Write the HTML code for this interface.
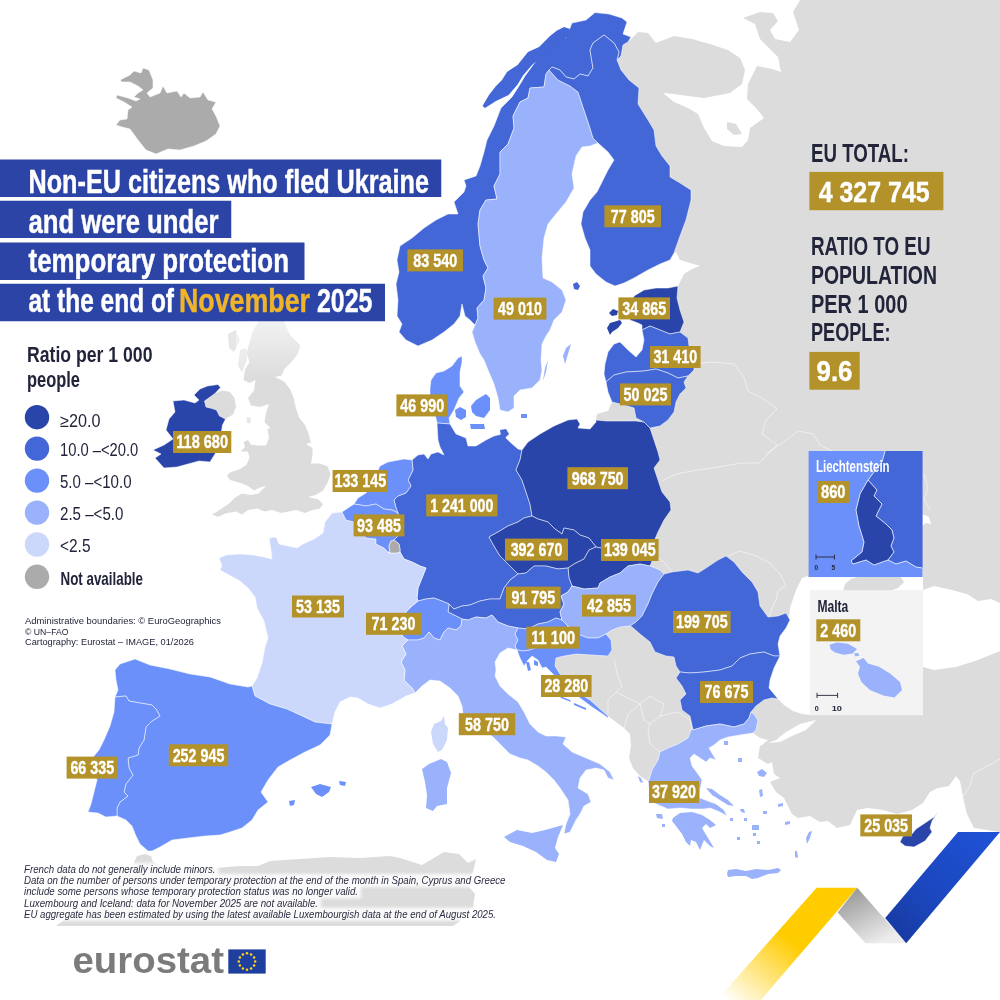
<!DOCTYPE html><html><head><meta charset="utf-8"><title>Temporary protection</title>
<style>html,body{margin:0;padding:0;background:#fff}svg{display:block}text{font-family:"Liberation Sans", Arial, sans-serif}</style></head><body>
<svg width="1000" height="1000" viewBox="0 0 1000 1000">
<defs>
<linearGradient id="gb" x1="1" y1="0" x2="0" y2="1"><stop offset="0" stop-color="#1F52D6"/><stop offset="0.6" stop-color="#1B47BE"/><stop offset="1" stop-color="#17379A"/></linearGradient>
<linearGradient id="gg" x1="0" y1="0" x2="0.6" y2="1"><stop offset="0" stop-color="#8E8E8E"/><stop offset="1" stop-color="#EDEDED"/></linearGradient>
<linearGradient id="gy" gradientUnits="userSpaceOnUse" x1="792" y1="942" x2="738" y2="1010"><stop offset="0" stop-color="#FFCC00"/><stop offset="1" stop-color="#FFCC00" stop-opacity="0"/></linearGradient>
<linearGradient id="fade" x1="0" y1="0" x2="0" y2="1"><stop offset="0" stop-color="#fff" stop-opacity="0.62"/><stop offset="1" stop-color="#fff" stop-opacity="0"/></linearGradient>
<filter id="blur" x="-5%" y="-20%" width="110%" height="140%"><feGaussianBlur stdDeviation="1.6"/></filter>
</defs>
<rect width="1000" height="1000" fill="#fff"/>
<g id="grey">
<path d="M617,60 L621,56 L623,45 L628,42 L638,32 L648,33 L656,43 L674,36 L692,39 L710,44 L728,50 L740,58 L745,70 L742,84 L730,93 L704,98 L688,96 L674,94 L663,93 L674,102 L688,108 L698,114 L704,128 L712,141 L724,146 L742,147 L748,140 L750,128 L764,118 L756,108 L747,99 L748,84 L757,66 L772,69 L781,72 L778,57 L769,48 L760,39 L755,24 L743,18 L760,12 L773,13 L778,21 L770,30 L775,39 L790,42 L799,30 L793,12 L800,0 L1000,0 L1000,603 L991,599 L978,601 L967,594 L952,590 L934,586 L923,590 L923,577 L808,577 L808,576 L802,578 L796,590 L790,608 L789,617 L770,626 L750,610 L740,590 L700,590 L660,590 L640,545 L640,460 L640,400 L660,350 L660,310 L672,294 L678,286 L684,274 L692,269 L700,266 L690,263 L680,260 L676,252 L674,253 L660,240 L660,200 L640,150 L620,100 L610,64Z" fill="#DCDCDC" />
<path d="M843,591 L845,584 L851,579 L860,576 L900,576 L904,582 L898,588 L890,591Z" fill="#DCDCDC" />
<path d="M727,122 L736,124 L742,134 L734,135 L727,129Z" fill="#DCDCDC" />
<path d="M778,699 L784,705 L793,711 L802,714 L810,715 L923,667 L934,670 L956,667 L978,660 L1000,651 L1000,832 L974,828 L967,814 L963,797 L960,781 L956,776 L949,786 L938,788 L930,792 L923,803 L912,810 L897,814 L883,810 L868,808 L857,810 L850,825 L837,828 L828,821 L820,822 L810,816 L798,818 L792,814 L788,806 L784,798 L776,792 L770,782 L780,778 L774,774 L772,762 L768,764 L758,758 L760,746 L766,743 L780,742 L792,736 L806,730 L816,720 L800,724 L786,732 L776,740 L762,745 L768,740 L760,738 L753,733 L756,730 L758,720 L754,714 L751,712 L756,706 L764,700 L772,698Z" fill="#DCDCDC" />
<path d="M606,634 L611,640 L612,650 L608,656 L592,655 L576,654 L564,656 L556,658 L555,666 L560,674 L566,680 L574,688 L580,694 L590,700 L600,709 L608,716 L616,722 L624,728 L630,734 L631,746 L629,758 L633,768 L640,776 L648,781 L649,780 L652,770 L658,760 L660,752 L668,748 L678,744 L688,738 L692,728 L693,730 L690,716 L682,710 L680,700 L686,694 L682,686 L676,678 L680,672 L676,666 L674,657 L666,656 L655,652 L650,642 L640,634 L632,627 L630,626 L620,627 L612,630Z" fill="#DCDCDC" />
<path d="M258.5,321 L284,321 L290,335 L296,341 L300.5,345.5 L297.5,354.5 L290,363.5 L284,369.5 L281.7,375.5 L275,377 L284,381.5 L290,389 L293.7,398 L296,408.5 L299,417.5 L305,425 L308,432 L311,442.5 L306,444 L312.5,448 L312.5,454.5 L311,463.5 L320,463.5 L327.5,466.5 L330.5,474 L327.5,483 L323,490.5 L315.5,495 L308,497 L318.5,499.5 L323,504 L320,508.5 L312.5,510 L305,513 L296,510 L288.5,511.5 L281,513 L272,510 L264.5,511.5 L257,508.5 L248,510 L242,514.5 L236,511.5 L227,513 L218,516.75 L212,514.5 L219.5,510 L228.5,504 L234.5,498 L242,493.5 L251,495 L258.5,493.5 L266,486 L260,487.5 L254,490.5 L248,486 L240.5,483 L230,480 L227,475.5 L230,472.5 L239,469.5 L246.5,465 L249.5,457.5 L248,451.5 L240.5,451.5 L245,447 L243.5,442 L248,440 L251,444.75 L258.5,445.5 L266,445.5 L269,438 L267.5,429 L270.5,428 L264.5,422 L266,413 L269,404 L260,407 L251,405.5 L248,398 L254,390.5 L255.5,380 L249.5,383 L243.5,380 L245,369.5 L249.5,362 L246.5,353 L249.5,342.5 L252.5,332Z" fill="#DCDCDC" />
<path d="M204.5,401 L215,393.5 L222.5,390.5 L230,392 L234.5,398 L236,407 L233,414.5 L225.5,419 L219.5,416 L216.5,410 L212,408.5 L206,407Z" fill="#DCDCDC" />
<path d="M612,402 L624,405 L634,408 L636,418 L644,422 L636,421 L606,421 L596,420 L597,414 L608,411Z" fill="#DCDCDC" />
<path d="M137,856 L145,854 L151,856 L153,862 L168,868 L190,871 L215,868 L240,866 L258,866 L270,861 L300,859 L330,857 L360,858 L390,856 L400,858 L422,865 L444,852 L459,854 L468,863 L476,859 L473,872 L466,883 L475,894 L473,907 L459,922 L453,926 L56,926 L78,909 L99,894 L120,879 L132,867Z" fill="#DCDCDC" />
<path d="M922.4,514 L929,517 L931,524 L926,523 L922.4,526Z" fill="#fff" />
<path d="M694,364 L712,362 L734,364 L744,377 L748,391 L762,398 L777,409 L766,420 L762,434 L777,445 L770,452 L766,456 L759,463 L741,463 L719,467 L698,470 L676,474 L662,481" fill="none" stroke="#fff" stroke-width="0.7" stroke-opacity="0.75"/>
<path d="M766,454 L784,442 L798,431 L813,434 L820,445 L834,452" fill="none" stroke="#fff" stroke-width="0.7" stroke-opacity="0.75"/>
<path d="M924,474 L928,488 L924,499 L930,510" fill="none" stroke="#fff" stroke-width="0.7" stroke-opacity="0.75"/>
<path d="M728,556 L740,551 L756,556 L770,563 L780,574 L786,586 L778,591 L776,600 L772,608 L769,617" fill="none" stroke="#fff" stroke-width="0.7" stroke-opacity="0.75"/>
<path d="M656,556 L664,562 L672,572" fill="none" stroke="#fff" stroke-width="0.7" stroke-opacity="0.75"/>
<path d="M614,660 L618,676 L622,686 L616,692" fill="none" stroke="#fff" stroke-width="0.7" stroke-opacity="0.75"/>
<path d="M616,692 L608,700 L608,714" fill="none" stroke="#fff" stroke-width="0.7" stroke-opacity="0.75"/>
<path d="M616,692 L632,700 L640,704 L628,714 L624,728" fill="none" stroke="#fff" stroke-width="0.7" stroke-opacity="0.75"/>
<path d="M640,704 L650,696 L664,704 L660,716 L650,724 L644,720 L640,704" fill="none" stroke="#fff" stroke-width="0.7" stroke-opacity="0.75"/>
<path d="M660,716 L678,712 L690,720 L692,728" fill="none" stroke="#fff" stroke-width="0.7" stroke-opacity="0.75"/>
<path d="M650,724 L648,730 L650,744 L660,752" fill="none" stroke="#fff" stroke-width="0.7" stroke-opacity="0.75"/>
<path d="M962,797 L969,788 L974,773 L991,764 L1000,759" fill="none" stroke="#fff" stroke-width="0.7" stroke-opacity="0.75"/>
<path d="M967,594 L975,610 L990,618 L1000,622" fill="none" stroke="#fff" stroke-width="0.7" stroke-opacity="0.75"/>
<path d="M228,334 L236,330 L240,340 L234,352 L229,348ZM240,350 L246,348 L247,360 L242,372 L238,366ZM246.5,417.5 L251,418 L250,423.5 L247,423Z" fill="#E6E6E6" />
<rect x="236" y="321" width="72" height="58" fill="url(#fade)"/>
</g>
<g id="countries" stroke="#fff" stroke-width="0.6" stroke-linejoin="round" stroke-opacity="0.85">
<path d="M120,80 L130,75 L134,71 L141,73 L143,68 L149,70 L153,80 L153,88 L147,93 L150,97 L160,93 L163,86 L167,93 L177,91 L181,97 L184,93 L190,98 L200,97 L203,92 L208,100 L216,102 L212,109 L216,116 L220,126 L216,134 L206,141 L194,146 L180,150 L168,149 L156,154 L146,150 L138,140 L130,129 L122,127 L116,125 L120,120 L127,119 L128,110 L132,107 L124,102 L116,98 L117,95 L128,98 L136,101 L140,99 L134,97 L138,93 L143,90 L138,86 L130,82 L122,82Z" fill="#ABABAB" />
<path d="M475,325 L470,320 L465,316 L462,304 L460,316 L454,324 L444,332 L432,340 L418,346 L406,340 L399,332 L402,324 L397,316 L398,300 L396,284 L399,272 L397,260 L400,246 L412,238 L424,228 L436,220 L448,214 L458,214 L454,202 L464,192 L466,186 L464,180 L476,176 L480,166 L484,152 L487,140 L494,126 L501,108 L512,97 L519,86 L525,76 L536,61 L546,50 L555,41 L566,38 L572,23 L586,20 L595,12.6 L609,14 L622,18 L627,22 L623,34 L631,37 L628,42 L623,45 L621,56 L617,60 L619,52 L614,43 L604,35 L593,43 L590,50 L593,68 L588,76 L580,74 L574,79 L566,77 L560,70 L552,67 L549,70 L546,74 L544,87 L530,88 L528,98 L520,102 L513,116 L514,128 L508,144 L500,152 L500,174 L494,186 L497,199 L486,200 L480,210 L478,224 L480,246 L484,260 L488,268 L483,276 L486,288 L484,300 L477,308 L478,318 L475,325Z" fill="#4367D7" />
<path d="M482.5,106 L489,95 L496,86 L502,80 L507,72 L517.6,65 L528,52 L539,47 L550,36 L557,30.6 L564,27 L570,29 L568,36 L561,43 L546,52 L539,59 L532,65 L523,75.6 L517.6,84.6 L508.6,95 L496,101 L485,108Z" fill="#4367D7" stroke="none"/>
<path d="M475,325 L478,318 L477,308 L484,300 L486,288 L483,276 L488,268 L484,260 L480,246 L478,224 L480,210 L486,200 L497,199 L494,186 L500,174 L500,152 L508,144 L514,128 L513,116 L520,102 L528,98 L530,88 L544,87 L546,74 L549,70 L558,80 L570,86 L578,92 L582,104 L586,116 L590,128 L593,138 L598,143 L590,146 L582,147 L576,156 L572,174 L574,188 L566,202 L556,214 L548,224 L544,238 L542,258 L543,278 L552,282 L562,290 L566,300 L562,312 L554,320 L550,330 L546,336 L542,344 L541,360 L542,370 L540,380 L532,388 L520,390 L514,396 L514,408 L508,412 L500,410 L498,398 L494,384 L488,370 L484,360 L480,354 L475,342 L472,332 L475,325Z" fill="#9AB2FB" />
<path d="M571,344 L568,354 L565,364 L563,356 L566,348ZM548,360 L546,372 L543,381 L545,368Z" fill="#9AB2FB" stroke="none"/>
<path d="M549,70 L552,67 L560,70 L566,77 L574,79 L580,74 L588,76 L593,68 L590,50 L593,43 L604,35 L614,43 L619,52 L617,60 L621,70 L629,80 L639,88 L638,104 L648,120 L654,130 L656,146 L662,156 L670,166 L670,177 L680,183 L691,190 L691,200 L686,220 L680,236 L674,253 L670,260 L660,264 L648,270 L634,278 L624,283 L615,286 L606,282 L596,274 L590,266 L590,250 L585,238 L581,224 L583,212 L590,200 L597,192 L602,182 L608,170 L614,160 L608,152 L598,143 L593,138 L590,128 L586,116 L582,104 L578,92 L570,86 L558,80 L549,70Z" fill="#4367D7" />
<path d="M573,284 L577,282 L580,286 L578,290 L574,289Z" fill="#4367D7" stroke="none"/>
<path d="M437,423 L436,418 L432,408 L430,398 L430,388 L431,380 L436,373 L444,371 L452,366 L458,358 L462,356 L462,362 L460,372 L460,386 L464,392 L459,398 L454,410 L449,418 L450,424Z" fill="#6B90FA" />
<path d="M455,410 L460,407 L466,410 L466,417 L461,420 L456,417ZM471,406 L476,400 L486,394 L490,398 L490,410 L484,418 L476,416 L472,412ZM470,424 L484,424 L485,429 L471,429ZM521,414 L527,414 L527,418 L521,418Z" fill="#6B90FA" stroke="none"/>
<path d="M412,460 L418,455 L424,454 L428,459 L431,454 L438,452 L444,455 L440,447 L438,440 L437,423 L450,424 L456,434 L466,438 L468,446 L476,446 L486,440 L494,436 L502,434 L510,442 L518,449 L522,450 L520,460 L516,470 L522,480 L526,492 L530,504 L532,516 L524,518 L518,522 L508,526 L498,532 L489,537 L494,546 L500,556 L510,566 L518,574 L510,580 L504,588 L500,599 L490,599 L480,601 L470,605 L462,606 L454,609 L449,604 L442,601 L434,598 L426,599 L418,601 L417,598 L418,588 L422,578 L426,568 L420,566 L412,562 L404,559 L400,552 L400,549 L399,544 L394,540 L398,536 L400,520 L398,513 L396,508 L394,500 L398,496 L406,493 L411,486 L408,480 L413,470 L412,460Z" fill="#4367D7" />
<path d="M500,430 L506,429 L509,434 L505,438 L501,436Z" fill="#4367D7" stroke="none"/>
<path d="M532,516 L530,504 L526,492 L522,480 L516,470 L520,460 L522,450 L528,442 L540,434 L554,426 L568,420 L577,419 L580,424 L578,428 L590,429 L596,422 L596,420 L606,421 L636,421 L644,422 L650,428 L654,440 L658,452 L660,460 L654,468 L658,480 L662,492 L670,502 L671,510 L664,520 L658,532 L655,539 L655,550 L650,556 L640,552 L630,554 L620,550 L610,552 L601,548 L596,547 L589,538 L580,535 L574,530 L564,528 L562,534 L555,529 L548,522 L538,519 L532,516Z" fill="#2945A9" />
<path d="M518,574 L510,566 L500,556 L494,546 L489,537 L498,532 L508,526 L518,522 L524,518 L532,516 L538,519 L548,522 L555,529 L562,534 L564,528 L574,530 L580,535 L589,538 L596,547 L589,550 L584,559 L574,564 L568,568 L558,569 L546,566 L534,566 L526,573 L518,574Z" fill="#2945A9" />
<path d="M596,547 L589,550 L584,559 L574,564 L568,568 L569,578 L572,586 L584,589 L598,588 L600,583 L610,577 L620,573 L628,566 L640,564 L650,566 L652,561 L656,556 L655,550 L650,556 L640,552 L630,554 L620,550 L610,552 L601,548 L596,547Z" fill="#2945A9" />
<path d="M449,604 L454,609 L462,606 L470,605 L480,601 L490,599 L500,599 L504,588 L510,580 L518,574 L526,573 L534,566 L546,566 L558,569 L568,568 L569,578 L572,586 L568,592 L561,596 L564,604 L560,612 L562,620 L556,618 L548,622 L538,624 L528,629 L518,628 L508,626 L498,622 L492,615 L486,618 L476,617 L468,620 L462,619 L456,616 L448,612 L449,604Z" fill="#4367D7" />
<path d="M418,601 L426,599 L434,598 L442,601 L449,604 L448,612 L456,616 L462,619 L461,626 L456,630 L448,628 L444,632 L440,640 L434,638 L429,632 L424,638 L418,640 L408,640 L403,637 L400,630 L404,620 L406,612 L412,606 L418,601Z" fill="#6B90FA" />
<path d="M572,586 L584,589 L598,588 L600,583 L610,577 L620,573 L628,566 L640,564 L650,566 L660,570 L664,574 L658,582 L652,594 L648,604 L642,616 L636,622 L630,626 L620,627 L612,630 L606,634 L598,638 L588,638 L580,635 L568,626 L562,620 L560,612 L564,604 L561,596 L568,592 L572,586Z" fill="#9AB2FB" />
<path d="M664,574 L672,572 L688,570 L698,573 L706,568 L718,560 L726,556 L734,562 L742,572 L752,582 L758,592 L760,606 L768,617 L778,616 L786,613 L790,620 L786,628 L780,636 L778,644 L780,656 L774,656 L764,652 L750,654 L740,658 L732,666 L720,670 L704,672 L690,673 L680,672 L676,666 L674,657 L666,656 L655,652 L650,642 L640,634 L632,627 L630,626 L636,622 L642,616 L648,604 L652,594 L658,582 L664,574Z" fill="#4367D7" />
<path d="M680,672 L690,673 L704,672 L720,670 L732,666 L740,658 L750,654 L764,652 L774,656 L780,656 L774,668 L770,680 L769,688 L774,694 L778,699 L772,698 L764,700 L756,706 L751,712 L749,718 L744,724 L734,727 L720,724 L706,726 L693,730 L690,716 L682,710 L680,700 L686,694 L682,686 L676,678 L680,672Z" fill="#4367D7" />
<path d="M648,781 L649,780 L652,770 L658,760 L660,752 L668,748 L678,744 L688,738 L692,728 L693,730 L706,726 L720,724 L734,727 L744,724 L749,718 L751,712 L754,714 L758,720 L756,730 L753,733 L740,735 L728,737 L720,740 L714,745 L709,748 L716,760 L710,758 L706,762 L700,758 L694,754 L690,758 L692,766 L698,774 L702,780 L700,790 L700,798 L716,804 L724,810 L727,816 L720,812 L710,808 L704,809 L692,809 L680,808 L668,809 L654,803 L650,796Z" fill="#9AB2FB" />
<path d="M673,818 L680,813 L692,812 L702,815 L710,820 L716,825 L710,828 L706,824 L702,828 L708,838 L714,848 L710,846 L704,840 L700,850 L696,842 L691,840 L690,846 L686,842 L682,834 L676,826 L672,821ZM727,874 L728,870 L736,869 L746,871 L756,869 L768,870 L778,868 L781,870 L778,873 L768,874 L758,878 L752,879 L746,876 L736,876 L728,877ZM706,788 L712,789 L720,795 L728,800 L734,806 L728,805 L720,800 L712,795ZM812,831 L810,838 L807,844 L806,838 L809,832ZM757,772 L762,769 L767,773 L764,777 L759,776ZM759,790 L762,789 L763,796 L760,797ZM778,804 L783,803 L783,806 L778,807ZM738,758 L742,758 L742,762 L738,762ZM724,741 L728,741 L728,745 L724,745ZM752,825 L759,825 L759,830 L752,830ZM740,809 L744,809 L745,813 L741,812ZM737,837 L740,837 L740,840 L737,840ZM753,833 L756,833 L756,836 L753,836ZM763,811 L767,811 L767,814 L763,814ZM757,841 L760,841 L760,844 L757,844ZM785,822 L790,821 L790,824 L785,825ZM795,851 L797,851 L798,858 L795,857ZM656,814 L662,814 L663,819 L657,818ZM662,824 L665,824 L665,827 L662,827ZM638,776 L641,778 L643,783 L640,782ZM744,818 L747,818 L747,821 L744,821ZM730,818 L733,818 L733,821 L730,821Z" fill="#9AB2FB" stroke="none"/>
<path d="M415,693 L412,688 L404,680 L405,670 L401,662 L406,654 L402,646 L408,640 L418,640 L424,638 L429,632 L434,638 L440,640 L444,632 L448,628 L456,630 L461,626 L462,619 L468,620 L476,617 L486,618 L492,615 L498,622 L508,626 L518,628 L515,634 L518,640 L515,646 L517,650 L508,648 L500,653 L495,662 L496,670 L495,676 L500,686 L508,694 L518,702 L524,712 L530,724 L538,732 L546,736 L556,736 L566,737 L563,744 L572,752 L586,758 L600,764 L610,772 L614,780 L608,778 L604,770 L596,768 L586,770 L580,778 L578,788 L588,794 L591,802 L584,806 L580,814 L576,820 L570,832 L564,834 L566,824 L570,814 L568,800 L560,788 L554,780 L546,772 L538,766 L528,760 L520,758 L510,754 L500,744 L492,736 L480,728 L470,721 L463,714 L462,706 L458,696 L450,688 L440,681 L430,680 L422,686 L415,693Z" fill="#9AB2FB" />
<path d="M422,769 L429,764 L441,759 L447,762 L451,773 L447,788 L447,804 L437,806 L433,811 L426,808 L427,795 L425,782ZM504,837 L517,830 L532,833 L545,830 L563,825 L558,837 L555,848 L559,854 L556,862 L547,860 L536,852 L523,846 L510,842Z" fill="#9AB2FB" stroke="none"/>
<path d="M342,512 L346,520 L354,522 L366,538 L376,539 L376,544 L384,548 L388,552 L390,553 L396,553 L400,552 L404,559 L412,562 L420,566 L426,568 L422,578 L418,588 L417,598 L418,601 L412,606 L406,612 L404,620 L400,630 L403,637 L408,640 L402,646 L406,654 L401,662 L405,670 L404,680 L412,688 L415,693 L406,696 L392,704 L380,708 L368,704 L358,698 L350,697 L340,702 L335,712 L332,724 L315,722 L300,715 L287,709 L270,704 L255,696 L252,686 L257,678 L262,663 L265,647 L268,638 L266,630 L264,621 L257,608 L255,597 L248,588 L240,581 L229,575 L220,570 L222,566 L219,558 L226,555 L240,554 L253,555 L264,557 L272,559 L271,550 L269,538 L276,537 L279,544 L288,546 L297,548 L303,544 L314,539 L323,533 L325,522 L332,513 L342,512Z" fill="#CBD8FC" />
<path d="M444,716 L445,724 L448,728 L447,740 L442,750 L438,752 L433,744 L431,732 L434,724 L441,721Z" fill="#CBD8FC" stroke="none"/>
<path d="M115,697 L118,690 L116,680 L115,670 L120,664 L135,659 L150,665 L170,669 L190,674 L210,677 L230,684 L248,687 L252,686 L255,696 L270,704 L287,709 L300,715 L315,722 L332,724 L330,735 L320,745 L305,752 L290,760 L278,767 L268,780 L261,792 L268,802 L258,810 L252,820 L242,828 L230,832 L220,835 L205,836 L188,838 L172,840 L160,847 L152,851 L148,851 L140,844 L136,836 L132,826 L126,820 L117,816 L117,808 L120,802 L128,796 L124,792 L126,784 L133,775 L129,768 L128,758 L138,755 L139,748 L144,740 L146,727 L152,721 L160,716 L156,709 L152,705 L140,703 L129,701 L126,696 L115,697Z" fill="#6B90FA" />
<path d="M311,787 L320,784 L331,787 L329,792 L322,797 L316,794ZM339,781 L346,782 L345,786 L340,785ZM289,801 L295,800 L294,805 L290,806Z" fill="#6B90FA" stroke="none"/>
<path d="M115,697 L126,696 L129,701 L140,703 L152,705 L156,709 L160,716 L152,721 L146,727 L144,740 L139,748 L138,755 L128,758 L129,768 L133,775 L126,784 L124,792 L128,796 L120,802 L117,808 L117,816 L106,817 L98,813 L88,812 L91,804 L94,792 L97,780 L94,768 L94,756 L99,750 L104,740 L110,726 L114,712 L115,697Z" fill="#6B90FA" />
<path d="M412,460 L413,470 L408,480 L411,486 L406,493 L398,496 L394,500 L396,508 L398,513 L392,510 L384,509 L376,504 L366,506 L354,504 L358,498 L366,493 L374,480 L380,466 L388,462 L404,459 L412,460Z" fill="#6B90FA" />
<path d="M354,504 L366,506 L376,504 L384,509 L392,510 L398,513 L400,520 L398,536 L394,540 L391,541 L389,546 L390,553 L388,552 L384,548 L376,544 L376,539 L366,538 L354,522 L346,520 L342,512Z" fill="#6B90FA" />
<path d="M394,540 L399,544 L400,549 L400,552 L396,553 L390,553 L388,552 L390,553 L389,546 L391,541 L394,540Z" fill="#ABABAB" />
<path d="M518,628 L528,629 L538,624 L548,622 L556,618 L562,620 L568,626 L560,634 L552,640 L540,646 L530,650 L523,651 L517,650 L515,646 L518,640 L515,634 L518,628Z" fill="#6B90FA" />
<path d="M517,650 L523,651 L530,650 L540,646 L552,640 L560,634 L568,626 L580,635 L588,638 L598,638 L606,634 L611,640 L612,650 L608,656 L592,655 L576,654 L564,656 L556,658 L555,666 L560,674 L566,680 L574,688 L580,694 L590,700 L600,709 L608,716 L608,718 L604,715 L592,707 L580,698 L570,691 L560,682 L554,675 L546,667 L542,668 L538,660 L532,656 L528,660 L524,666 L520,658 L517,650Z" fill="#6B90FA" />
<path d="M526,662 L529,662 L531,670 L528,671ZM534,660 L538,662 L538,666 L534,665ZM560,696 L570,700 L571,702 L561,698ZM574,703 L586,708 L586,710 L574,705Z" fill="#6B90FA" stroke="none"/>
<path d="M634,296 L644,290 L656,288 L668,288 L678,286 L677,298 L680,310 L684,322 L680,332 L670,334 L660,330 L650,326 L642,330 L642,325 L638,323 L630,320 L630,308Z" fill="#2945A9" />
<path d="M609,313 L613,309 L618,311 L617,315 L612,316ZM607,328 L610,323 L620,320 L622,323 L618,328 L612,332 L610,335Z" fill="#2945A9" stroke="none"/>
<path d="M642,330 L650,326 L660,330 L670,334 L680,332 L688,338 L689,346 L694,358 L694,370 L688,376 L678,378 L668,373 L656,369 L644,371 L626,372 L614,375 L606,382 L604,374 L605,364 L608,352 L614,344 L620,342 L628,350 L636,357 L642,350 L644,340Z" fill="#4367D7" />
<path d="M606,382 L614,375 L626,372 L644,371 L656,369 L668,373 L678,378 L688,376 L684,382 L686,388 L680,394 L676,402 L674,412 L668,420 L660,426 L650,428 L644,422 L636,418 L634,408 L624,405 L612,402 L608,392Z" fill="#4367D7" />
<path d="M194,395 L200,389 L207.5,386 L218,384.5 L220.5,387.5 L215,393.5 L204.5,401 L206,407 L212,408.5 L216.5,410 L219.5,416 L225.5,419 L222.5,425 L221.5,431 L218,442 L215,454 L210,462 L199,461 L188,464 L177,467 L164,468 L155,458 L161,454 L153,450 L164,445 L173,439 L166,430 L169,419 L175,412 L173,401 L184,400 L195,403 L199,400Z" fill="#2945A9" />
<path d="M938,812 L932,821 L930,828 L932,832 L925,841 L914,847 L905,846 L900,842 L903,836 L912,834 L916,829 L925,823 L934,817Z" fill="#2945A9" />
</g>
<g id="ribbon">
<path d="M816.6,887.8 L857.2,887.8 L761,1000 L717,1000Z" fill="url(#gy)" />
<path d="M857.2,887.8 L906.2,943.2 L865.6,943.2 L837.6,912.4Z" fill="url(#gg)" />
<path d="M958,832 L1000,832 L906.2,943.2 L885.2,918Z" fill="url(#gb)" />
</g>
<g id="insets">
<rect x="808.6" y="451" width="113.8" height="126" fill="#6B90FA"/>
<path d="M885,451 L882,462 L874,472 L868,480 L877,490 L874,496 L882,504 L876,516 L886,524 L892,530 L894,538 L891,546 L894,552 L888,560 L896,564 L906,561 L916,567 L922.4,568 L922.4,451Z" fill="#4367D7" />
<path d="M868,480 L860,494 L856,510 L859,526 L864,542 L862,552 L851,561 L853,564 L866,560 L874,565 L888,560 L894,552 L891,546 L894,538 L892,530 L886,524 L876,516 L882,504 L874,496 L877,490Z" fill="#2945A9" stroke="#fff" stroke-width="0.8"/>
<path d="M885,451 L882,462 L874,472 L868,480" fill="none" stroke="#fff" stroke-width="0.8"/>
<path d="M888,560 L896,564 L906,561 L916,567 L922.4,568" fill="none" stroke="#fff" stroke-width="0.8"/>
<rect x="809.7" y="590.2" width="113.3" height="125" fill="#F3F3F3"/>
<path d="M829.5,644.8 L837,642.6 L848,643.7 L857,649 L852.6,653.6 L843.8,654.7 L835,652.5 L830.6,649.2Z" fill="#9AB2FB" />
<path d="M854,653.5 L858,653 L859.5,655.5 L855.5,656.5Z" fill="#9AB2FB" />
<path d="M856,661.3 L863.6,658 L868,663.5 L879,666.8 L890,673.4 L900,682 L902,690 L894.4,697.6 L883.4,695.4 L870,690 L861.4,682 L858,673.4 L860,666.8Z" fill="#9AB2FB" />
<path d="M816,554.5v5M816,557h18.4M834.4,554.5v5" stroke="#22253A" stroke-width="0.9" fill="none"/>
<path d="M817,692.8v5.2M817,695.4h20.6M837.6,692.8v5.2" stroke="#22253A" stroke-width="0.9" fill="none"/>
</g>
<g id="title">
<rect x="0" y="159.5" width="441.25" height="37.5" fill="#2B44A6"/>
<rect x="0" y="200.75" width="231.25" height="37.25" fill="#2B44A6"/>
<rect x="0" y="242.5" width="304.5" height="37.5" fill="#2B44A6"/>
<rect x="0" y="283.75" width="385" height="37.5" fill="#2B44A6"/>
<text x="28.5" y="192.5" font-size="32.6" font-weight="bold" fill="#fff" text-anchor="start" textLength="400.5" lengthAdjust="spacingAndGlyphs" stroke="#fff" stroke-width="0.45">Non-EU citizens who fled Ukraine</text>
<text x="28.5" y="232.5" font-size="32.6" font-weight="bold" fill="#fff" text-anchor="start" textLength="190" lengthAdjust="spacingAndGlyphs" stroke="#fff" stroke-width="0.45">and were under</text>
<text x="28.5" y="272" font-size="32.6" font-weight="bold" fill="#fff" text-anchor="start" textLength="260.5" lengthAdjust="spacingAndGlyphs" stroke="#fff" stroke-width="0.45">temporary protection</text>
<text x="28.5" y="312" font-size="32.6" font-weight="bold" fill="#fff" text-anchor="start" textLength="145.5" lengthAdjust="spacingAndGlyphs" stroke="#fff" stroke-width="0.45">at the end of</text>
<text x="179" y="312" font-size="32.6" font-weight="bold" fill="#F0B429" text-anchor="start" textLength="131" lengthAdjust="spacingAndGlyphs" stroke="#F0B429" stroke-width="0.45">November</text>
<text x="317" y="312" font-size="32.6" font-weight="bold" fill="#fff" text-anchor="start" textLength="55.5" lengthAdjust="spacingAndGlyphs" stroke="#fff" stroke-width="0.45">2025</text>
</g>
<g id="legend">
<text x="27" y="362" font-size="21.7" font-weight="bold" fill="#22253A" text-anchor="start" textLength="125.5" lengthAdjust="spacingAndGlyphs">Ratio per 1 000</text>
<text x="27" y="387.2" font-size="21.7" font-weight="bold" fill="#22253A" text-anchor="start" textLength="53" lengthAdjust="spacingAndGlyphs">people</text>
<circle cx="37" cy="417.2" r="12.2" fill="#2945A9"/>
<circle cx="37" cy="448.6" r="12.2" fill="#4367D7"/>
<circle cx="37" cy="480.6" r="12.2" fill="#6B90FA"/>
<circle cx="37" cy="512.6" r="12.2" fill="#9AB2FB"/>
<circle cx="37" cy="544.5" r="12.2" fill="#CBD8FC"/>
<circle cx="37" cy="576.8" r="12.2" fill="#ABABAB"/>
<text x="60" y="426.7" font-size="17.7" font-weight="normal" fill="#22253A" text-anchor="start" textLength="40.4" lengthAdjust="spacingAndGlyphs">≥20.0</text>
<text x="60" y="456.4" font-size="17.7" font-weight="normal" fill="#22253A" text-anchor="start" textLength="78.3" lengthAdjust="spacingAndGlyphs">10.0 –&lt;20.0</text>
<text x="60" y="488" font-size="17.7" font-weight="normal" fill="#22253A" text-anchor="start" textLength="71.5" lengthAdjust="spacingAndGlyphs">5.0 –&lt;10.0</text>
<text x="60" y="519.8" font-size="17.7" font-weight="normal" fill="#22253A" text-anchor="start" textLength="63.4" lengthAdjust="spacingAndGlyphs">2.5 –&lt;5.0</text>
<text x="60" y="552" font-size="17.7" font-weight="normal" fill="#22253A" text-anchor="start" textLength="30.5" lengthAdjust="spacingAndGlyphs">&lt;2.5</text>
<text x="60.5" y="585" font-size="17.7" font-weight="bold" fill="#22253A" text-anchor="start" textLength="82.5" lengthAdjust="spacingAndGlyphs">Not available</text>
</g>
<g id="attrib">
<text x="25" y="623.75" font-size="9.4" font-weight="normal" fill="#22253A" text-anchor="start" textLength="196" lengthAdjust="spacingAndGlyphs">Administrative boundaries: © EuroGeographics</text>
<text x="25" y="634.5" font-size="9.4" font-weight="normal" fill="#22253A" text-anchor="start" textLength="43.5" lengthAdjust="spacingAndGlyphs">© UN–FAO</text>
<text x="25" y="645" font-size="9.4" font-weight="normal" fill="#22253A" text-anchor="start" textLength="169" lengthAdjust="spacingAndGlyphs">Cartography: Eurostat – IMAGE, 01/2026</text>
</g>
<g id="panel">
<text x="811" y="161.9" font-size="26.5" font-weight="bold" fill="#22253A" text-anchor="start" textLength="98" lengthAdjust="spacingAndGlyphs">EU TOTAL:</text>
<rect x="809.4" y="171.9" width="134" height="38.3" fill="#B3922A"/>
<text x="818.7" y="202.4" font-size="29.4" font-weight="bold" fill="#fff" text-anchor="start" textLength="111" lengthAdjust="spacingAndGlyphs" stroke="#fff" stroke-width="0.4">4 327 745</text>
<text x="811" y="254.7" font-size="26.2" font-weight="bold" fill="#22253A" text-anchor="start" textLength="119.5" lengthAdjust="spacingAndGlyphs">RATIO TO EU</text>
<text x="811" y="283.9" font-size="26.2" font-weight="bold" fill="#22253A" text-anchor="start" textLength="126" lengthAdjust="spacingAndGlyphs">POPULATION</text>
<text x="811" y="312.5" font-size="26.2" font-weight="bold" fill="#22253A" text-anchor="start" textLength="96.5" lengthAdjust="spacingAndGlyphs">PER 1 000</text>
<text x="811" y="340.6" font-size="26.2" font-weight="bold" fill="#22253A" text-anchor="start" textLength="79.5" lengthAdjust="spacingAndGlyphs">PEOPLE:</text>
<rect x="809.4" y="351.9" width="50.3" height="37.8" fill="#B3922A"/>
<text x="816.5" y="381" font-size="29" font-weight="bold" fill="#fff" text-anchor="start" textLength="36" lengthAdjust="spacingAndGlyphs" stroke="#fff" stroke-width="0.4">9.6</text>
</g>
<text x="816" y="472.4" font-size="16" font-weight="bold" fill="#fff" text-anchor="start" textLength="73.6" lengthAdjust="spacingAndGlyphs">Liechtenstein</text>
<text x="817.4" y="611.5" font-size="16" font-weight="bold" fill="#22253A" text-anchor="start" textLength="30.8" lengthAdjust="spacingAndGlyphs">Malta</text>
<text x="814.6" y="570.3" font-size="8" font-weight="bold" fill="#22253A" text-anchor="start" textLength="3.6" lengthAdjust="spacingAndGlyphs">0</text>
<text x="831.6" y="570.3" font-size="8" font-weight="bold" fill="#22253A" text-anchor="start" textLength="3.6" lengthAdjust="spacingAndGlyphs">5</text>
<text x="814.8" y="711" font-size="8" font-weight="bold" fill="#22253A" text-anchor="start" textLength="4" lengthAdjust="spacingAndGlyphs">0</text>
<text x="831.7" y="711" font-size="8" font-weight="bold" fill="#22253A" text-anchor="start" textLength="10.3" lengthAdjust="spacingAndGlyphs">10</text>
<g id="labels">
<rect x="407.4" y="249.4" width="55.6" height="22" fill="#B3922A"/>
<text x="413.3" y="266.8" font-size="18" font-weight="bold" fill="#fff" text-anchor="start" textLength="43.8" lengthAdjust="spacingAndGlyphs" stroke="#fff" stroke-width="0.35">83 540</text>
<rect x="493.6" y="297.6" width="52.8" height="22" fill="#B3922A"/>
<text x="498.1" y="315" font-size="18" font-weight="bold" fill="#fff" text-anchor="start" textLength="43.8" lengthAdjust="spacingAndGlyphs" stroke="#fff" stroke-width="0.35">49 010</text>
<rect x="604.4" y="205.3" width="56.6" height="22" fill="#B3922A"/>
<text x="610.8" y="222.7" font-size="18" font-weight="bold" fill="#fff" text-anchor="start" textLength="43.8" lengthAdjust="spacingAndGlyphs" stroke="#fff" stroke-width="0.35">77 805</text>
<rect x="618.4" y="297.4" width="51.6" height="22" fill="#B3922A"/>
<text x="622.3" y="314.8" font-size="18" font-weight="bold" fill="#fff" text-anchor="start" textLength="43.8" lengthAdjust="spacingAndGlyphs" stroke="#fff" stroke-width="0.35">34 865</text>
<rect x="650" y="346" width="50.6" height="22" fill="#B3922A"/>
<text x="653.4" y="363.4" font-size="18" font-weight="bold" fill="#fff" text-anchor="start" textLength="43.8" lengthAdjust="spacingAndGlyphs" stroke="#fff" stroke-width="0.35">31 410</text>
<rect x="620" y="383.4" width="51" height="22" fill="#B3922A"/>
<text x="623.6" y="400.8" font-size="18" font-weight="bold" fill="#fff" text-anchor="start" textLength="43.8" lengthAdjust="spacingAndGlyphs" stroke="#fff" stroke-width="0.35">50 025</text>
<rect x="396.4" y="394.4" width="51.6" height="22" fill="#B3922A"/>
<text x="400.3" y="411.8" font-size="18" font-weight="bold" fill="#fff" text-anchor="start" textLength="43.8" lengthAdjust="spacingAndGlyphs" stroke="#fff" stroke-width="0.35">46 990</text>
<rect x="173" y="431" width="58.3" height="22" fill="#B3922A"/>
<text x="176.3" y="448.4" font-size="18" font-weight="bold" fill="#fff" text-anchor="start" textLength="51.7" lengthAdjust="spacingAndGlyphs" stroke="#fff" stroke-width="0.35">118 680</text>
<rect x="332.6" y="470" width="55.4" height="22" fill="#B3922A"/>
<text x="334.45" y="487.4" font-size="18" font-weight="bold" fill="#fff" text-anchor="start" textLength="51.7" lengthAdjust="spacingAndGlyphs" stroke="#fff" stroke-width="0.35">133 145</text>
<rect x="426.2" y="494.4" width="71.2" height="22" fill="#B3922A"/>
<text x="430.25" y="511.8" font-size="18" font-weight="bold" fill="#fff" text-anchor="start" textLength="63.1" lengthAdjust="spacingAndGlyphs" stroke="#fff" stroke-width="0.35">1 241 000</text>
<rect x="567.4" y="467.2" width="60.6" height="22" fill="#B3922A"/>
<text x="571.85" y="484.6" font-size="18" font-weight="bold" fill="#fff" text-anchor="start" textLength="51.7" lengthAdjust="spacingAndGlyphs" stroke="#fff" stroke-width="0.35">968 750</text>
<rect x="353.6" y="514.4" width="50.8" height="22" fill="#B3922A"/>
<text x="357.1" y="531.8" font-size="18" font-weight="bold" fill="#fff" text-anchor="start" textLength="43.8" lengthAdjust="spacingAndGlyphs" stroke="#fff" stroke-width="0.35">93 485</text>
<rect x="505" y="538.6" width="63" height="22" fill="#B3922A"/>
<text x="510.65" y="556" font-size="18" font-weight="bold" fill="#fff" text-anchor="start" textLength="51.7" lengthAdjust="spacingAndGlyphs" stroke="#fff" stroke-width="0.35">392 670</text>
<rect x="601" y="539" width="57.6" height="22" fill="#B3922A"/>
<text x="603.95" y="556.4" font-size="18" font-weight="bold" fill="#fff" text-anchor="start" textLength="51.7" lengthAdjust="spacingAndGlyphs" stroke="#fff" stroke-width="0.35">139 045</text>
<rect x="292" y="595.5" width="52" height="22" fill="#B3922A"/>
<text x="296.1" y="612.9" font-size="18" font-weight="bold" fill="#fff" text-anchor="start" textLength="43.8" lengthAdjust="spacingAndGlyphs" stroke="#fff" stroke-width="0.35">53 135</text>
<rect x="366" y="612.8" width="55" height="22" fill="#B3922A"/>
<text x="371.6" y="630.2" font-size="18" font-weight="bold" fill="#fff" text-anchor="start" textLength="43.8" lengthAdjust="spacingAndGlyphs" stroke="#fff" stroke-width="0.35">71 230</text>
<rect x="506" y="586.6" width="54.6" height="22" fill="#B3922A"/>
<text x="511.4" y="604" font-size="18" font-weight="bold" fill="#fff" text-anchor="start" textLength="43.8" lengthAdjust="spacingAndGlyphs" stroke="#fff" stroke-width="0.35">91 795</text>
<rect x="582" y="594.6" width="54" height="22" fill="#B3922A"/>
<text x="587.1" y="612" font-size="18" font-weight="bold" fill="#fff" text-anchor="start" textLength="43.8" lengthAdjust="spacingAndGlyphs" stroke="#fff" stroke-width="0.35">42 855</text>
<rect x="526.4" y="626.6" width="53.6" height="22" fill="#B3922A"/>
<text x="531.3" y="644" font-size="18" font-weight="bold" fill="#fff" text-anchor="start" textLength="43.8" lengthAdjust="spacingAndGlyphs" stroke="#fff" stroke-width="0.35">11 100</text>
<rect x="673" y="611" width="57.6" height="22" fill="#B3922A"/>
<text x="675.95" y="628.4" font-size="18" font-weight="bold" fill="#fff" text-anchor="start" textLength="51.7" lengthAdjust="spacingAndGlyphs" stroke="#fff" stroke-width="0.35">199 705</text>
<rect x="700" y="681" width="53" height="22" fill="#B3922A"/>
<text x="704.6" y="698.4" font-size="18" font-weight="bold" fill="#fff" text-anchor="start" textLength="43.8" lengthAdjust="spacingAndGlyphs" stroke="#fff" stroke-width="0.35">76 675</text>
<rect x="541" y="675" width="50.6" height="22" fill="#B3922A"/>
<text x="544.4" y="692.4" font-size="18" font-weight="bold" fill="#fff" text-anchor="start" textLength="43.8" lengthAdjust="spacingAndGlyphs" stroke="#fff" stroke-width="0.35">28 280</text>
<rect x="458.8" y="713.2" width="56.4" height="22" fill="#B3922A"/>
<text x="465.1" y="730.6" font-size="18" font-weight="bold" fill="#fff" text-anchor="start" textLength="43.8" lengthAdjust="spacingAndGlyphs" stroke="#fff" stroke-width="0.35">58 750</text>
<rect x="168.75" y="744.25" width="59.5" height="22" fill="#B3922A"/>
<text x="172.65" y="761.65" font-size="18" font-weight="bold" fill="#fff" text-anchor="start" textLength="51.7" lengthAdjust="spacingAndGlyphs" stroke="#fff" stroke-width="0.35">252 945</text>
<rect x="66.6" y="756.6" width="51.4" height="22" fill="#B3922A"/>
<text x="70.4" y="774" font-size="18" font-weight="bold" fill="#fff" text-anchor="start" textLength="43.8" lengthAdjust="spacingAndGlyphs" stroke="#fff" stroke-width="0.35">66 335</text>
<rect x="649" y="781" width="50" height="22" fill="#B3922A"/>
<text x="652.1" y="798.4" font-size="18" font-weight="bold" fill="#fff" text-anchor="start" textLength="43.8" lengthAdjust="spacingAndGlyphs" stroke="#fff" stroke-width="0.35">37 920</text>
<rect x="860.3" y="814.4" width="51.7" height="22" fill="#B3922A"/>
<text x="864.25" y="831.8" font-size="18" font-weight="bold" fill="#fff" text-anchor="start" textLength="43.8" lengthAdjust="spacingAndGlyphs" stroke="#fff" stroke-width="0.35">25 035</text>
<rect x="817.6" y="481" width="31.4" height="22" fill="#B3922A"/>
<text x="821.05" y="498.4" font-size="18" font-weight="bold" fill="#fff" text-anchor="start" textLength="24.5" lengthAdjust="spacingAndGlyphs" stroke="#fff" stroke-width="0.35">860</text>
<rect x="816.3" y="619.3" width="44" height="22" fill="#B3922A"/>
<text x="820.35" y="636.7" font-size="18" font-weight="bold" fill="#fff" text-anchor="start" textLength="35.9" lengthAdjust="spacingAndGlyphs" stroke="#fff" stroke-width="0.35">2 460</text>
</g>
<g id="notes" font-style="italic">
<g filter="url(#blur)" opacity="0.88">
<rect x="21" y="862.9" width="197.5" height="13" fill="#fff"/>
<rect x="21" y="874.1" width="487.5" height="13" fill="#fff"/>
<rect x="21" y="885.3" width="340" height="13" fill="#fff"/>
<rect x="21" y="896.5" width="300" height="13" fill="#fff"/>
<rect x="21" y="907.7" width="478" height="13" fill="#fff"/>
</g>
<text x="24" y="872.9" font-size="10" font-weight="normal" fill="#2A2D40" text-anchor="start" textLength="191.5" lengthAdjust="spacingAndGlyphs">French data do not generally include minors.</text>
<text x="24" y="884.1" font-size="10" font-weight="normal" fill="#2A2D40" text-anchor="start" textLength="481.5" lengthAdjust="spacingAndGlyphs">Data on the number of persons under temporary protection at the end of the month in Spain, Cyprus and Greece</text>
<text x="24" y="895.3" font-size="10" font-weight="normal" fill="#2A2D40" text-anchor="start" textLength="334" lengthAdjust="spacingAndGlyphs">include some persons whose temporary protection status was no longer valid.</text>
<text x="24" y="906.5" font-size="10" font-weight="normal" fill="#2A2D40" text-anchor="start" textLength="294" lengthAdjust="spacingAndGlyphs">Luxembourg and Iceland: data for November 2025 are not available.</text>
<text x="24" y="917.7" font-size="10" font-weight="normal" fill="#2A2D40" text-anchor="start" textLength="472" lengthAdjust="spacingAndGlyphs">EU aggregate has been estimated by using the latest available Luxembourgish data at the end of August 2025.</text>
</g>
<g id="logo">
<text x="72.5" y="973.3" font-size="36.5" font-weight="bold" fill="#7B7B7B" text-anchor="start" textLength="151.5" lengthAdjust="spacingAndGlyphs">eurostat</text>
<rect x="228.3" y="949.4" width="37.4" height="24.2" fill="#1F3F9F"/>
<circle cx="247.00" cy="953.30" r="1.25" fill="#FFD617"/>
<circle cx="251.10" cy="954.40" r="1.25" fill="#FFD617"/>
<circle cx="254.10" cy="957.40" r="1.25" fill="#FFD617"/>
<circle cx="255.20" cy="961.50" r="1.25" fill="#FFD617"/>
<circle cx="254.10" cy="965.60" r="1.25" fill="#FFD617"/>
<circle cx="251.10" cy="968.60" r="1.25" fill="#FFD617"/>
<circle cx="247.00" cy="969.70" r="1.25" fill="#FFD617"/>
<circle cx="242.90" cy="968.60" r="1.25" fill="#FFD617"/>
<circle cx="239.90" cy="965.60" r="1.25" fill="#FFD617"/>
<circle cx="238.80" cy="961.50" r="1.25" fill="#FFD617"/>
<circle cx="239.90" cy="957.40" r="1.25" fill="#FFD617"/>
<circle cx="242.90" cy="954.40" r="1.25" fill="#FFD617"/>
</g>
</svg></body></html>
